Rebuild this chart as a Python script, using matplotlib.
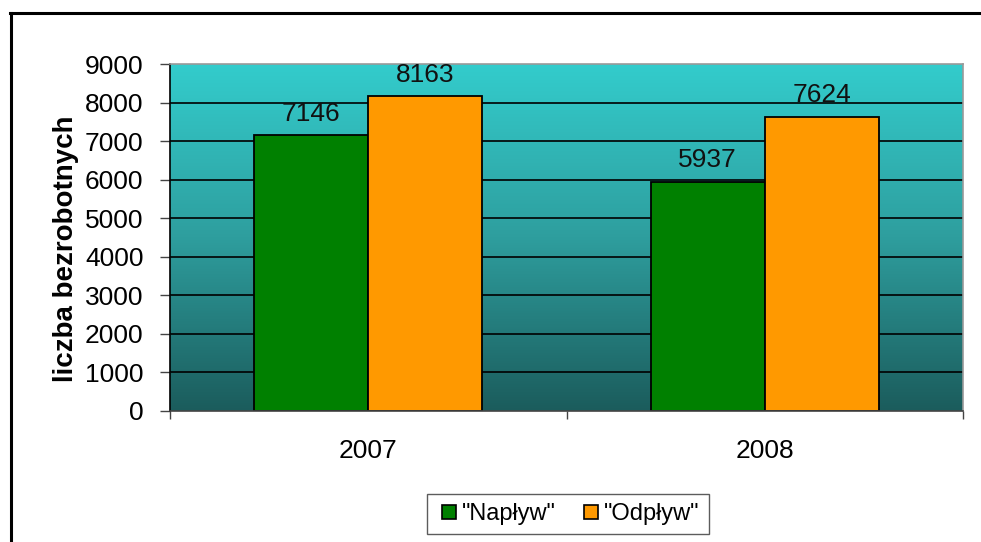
import matplotlib
matplotlib.use("Agg")
import matplotlib.pyplot as plt
import numpy as np
from matplotlib.colors import LinearSegmentedColormap
from matplotlib.lines import Line2D

categories = ["2007", "2008"]
series_names = ['"Napływ"', '"Odpływ"']
naplyw = [7146, 5937]
odplyw = [8163, 7624]
yticks = [0, 1000, 2000, 3000, 4000, 5000, 6000, 7000, 8000, 9000]
ylabel = "liczba bezrobotnych"

plt.rcParams['font.family'] = ['Liberation Sans', 'DejaVu Sans']

fig = plt.figure(figsize=(9.81, 5.42), dpi=100)
ax = fig.add_axes([170/981, 1-411/542, (963-170)/981, (411-64)/542])

# gradient background
cmap = LinearSegmentedColormap.from_list("bg", ["#1B5C5C", "#2E9E9E", "#33CCCC"])
grad = np.linspace(0, 1, 256).reshape(-1, 1)
ax.imshow(grad, cmap=cmap, aspect='auto', extent=[0, 1, 0, 1],
          transform=ax.transAxes, origin='lower', zorder=0)

x = np.arange(len(categories))
w = 0.2875
ax.set_xlim(-0.5, len(categories) - 0.5)
ax.set_ylim(0, 9000)
for yv in yticks[1:-1]:
    ax.axhline(yv, color='black', lw=1.2, zorder=1)

b1 = ax.bar(x - w/2, naplyw, w, color='#008000', edgecolor='black', lw=1.3, zorder=2)
b2 = ax.bar(x + w/2, odplyw, w, color='#FF9900', edgecolor='black', lw=1.3, zorder=2)
for bars, vals in ((b1, naplyw), (b2, odplyw)):
    for r, v in zip(bars, vals):
        ax.annotate(str(v), (r.get_x() + r.get_width()/2, v), xytext=(0, 7),
                    textcoords='offset points', ha='center', va='bottom',
                    fontsize=19, color='#111111', zorder=3)

ax.set_yticks(yticks)
ax.set_yticklabels([str(t) for t in yticks], fontsize=19)
ax.set_xticks(x)
ax.set_xticklabels(categories, fontsize=19)
ax.tick_params(axis='x', length=0, pad=20)
ax.set_xticks([-0.5, 0.5, 1.5], minor=True)
ax.tick_params(axis='x', which='minor', length=6, width=1, color='#444444')
ax.tick_params(axis='y', length=7, width=1, pad=12, color='#444444')
ax.set_ylabel(ylabel, fontsize=20, fontweight='bold')
ax.yaxis.set_label_coords(-0.115, 0.467)

ax.spines['left'].set_color('black')
ax.spines['left'].set_linewidth(1.2)
ax.spines['bottom'].set_color('#444444')
ax.spines['bottom'].set_linewidth(1.2)
for s in ('top', 'right'):
    ax.spines[s].set_color('#999999')
    ax.spines[s].set_linewidth(1.2)

handles = [Line2D([], [], marker='s', ls='', markersize=10, markerfacecolor=c,
                  markeredgecolor='black', markeredgewidth=1.2)
           for c in ('#008000', '#FF9900')]
leg = fig.legend(handles, series_names, loc='center', bbox_to_anchor=(568/981, 1-514/542),
                 ncol=2, fontsize=17, frameon=True, fancybox=False, edgecolor='#333333',
                 handletextpad=0.05, columnspacing=1.0, handlelength=1.0, borderpad=0.4)
leg.get_frame().set_linewidth(1.0)

# outer border (top and left)
fig.add_artist(Line2D([10/981, 1.0], [1-13/542, 1-13/542], color='black', lw=2.2,
                      transform=fig.transFigure))
fig.add_artist(Line2D([11/981, 11/981], [0, 1-13/542], color='black', lw=2.2,
                      transform=fig.transFigure))

fig.savefig("out.png", dpi=100)
